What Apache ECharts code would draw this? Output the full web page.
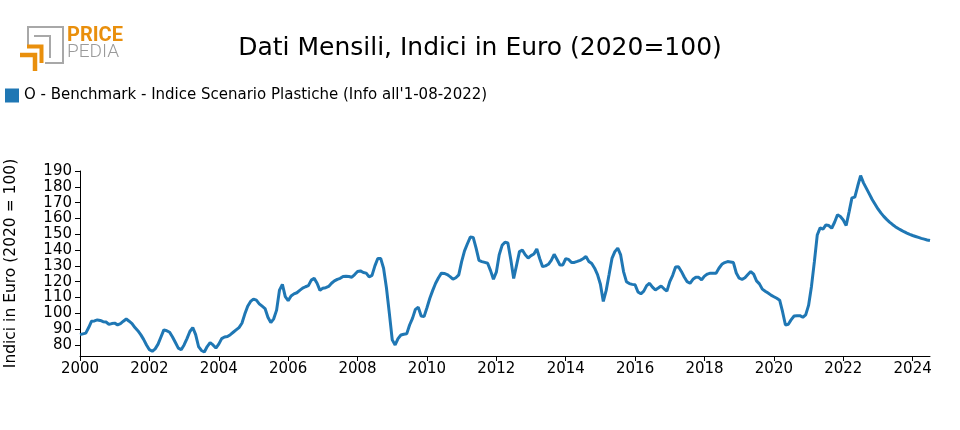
<!DOCTYPE html>
<html>
<head>
<meta charset="utf-8">
<script src="https://cdn.jsdelivr.net/npm/echarts@6/dist/echarts.min.js"></script>
<style>
html,body{margin:0;padding:0;background:#fff;}
#chart{width:960px;height:430px;}
</style>
</head>
<body>
<div id="chart"></div>
<script>
// Monthly index values, starting January of the start year
const startYear = 2000;
const v2000_2004 = [
  86.5, 87, 87.5, 91, 95, 95.2, 95.8, 95.5, 94.7, 94.5, 93, 93.5,
  93.8, 92.7, 93.5, 95, 96.4, 95, 93.5, 91, 89, 86.5, 83.5, 80,
  77, 76, 77.5, 80.5, 85, 89.5, 89, 88, 85, 81.5, 78, 77,
  80, 84, 88.5, 91, 86.5, 79, 76.5, 75.5, 79, 81.5, 80, 78,
  80.5, 84, 85, 85.3, 86.5, 88, 89.5, 91, 93.7, 99.5, 104.5, 107.5
];
const v2005_2009 = [
  109, 108.3, 106, 104.5, 103, 97.5, 94.1, 96.5, 102, 114.7, 118.3, 110.5,
  108, 111, 112.3, 113, 114.5, 115.9, 116.8, 117.5, 121, 122.1, 119, 114.5,
  115.9, 116.2, 117, 119, 120.5, 121.5, 122.1, 123.3, 123.5, 123.3, 122.8, 124.5,
  126.4, 126.8, 125.8, 125.4, 123, 124, 130, 134.7, 134.7, 128.5, 116, 100,
  83.2, 80, 84, 86.3, 86.8, 87, 92.6, 96.8, 102.5, 103.8, 98.3, 97.9
];
const v2010_2014 = [
  103.5, 109.5, 114.5, 119, 122.5, 125.4, 125.2, 124.5, 123.2, 121.6, 122.5, 124.3,
  132.7, 139.5, 144, 148.2, 148, 141.2, 133.5, 132.7, 132.2, 131.7, 127, 121.6,
  126, 137, 143, 145, 144.5, 134, 122, 130.5, 139, 140, 137, 135,
  136.5, 137.5, 140.7, 134.7, 129.5, 130, 131, 133.5, 137.3, 134, 130.6, 130.6,
  134.5, 134.1, 132.1, 132.2, 132.8, 133.5, 134.5, 135.9, 132.8, 131.5, 128.5, 124.5
];
const v2015_2019 = [
  118.4, 107.5, 114.5, 124.5, 134.7, 139, 141.2, 136.9, 126.4, 120, 118.8, 118.3,
  118, 113.5, 112.3, 114, 117.5, 119, 116.5, 114.8, 116, 117.3, 115.5, 114,
  120, 124, 129.3, 129.5, 126.5, 123, 120, 119, 121.5, 122.8, 122.8, 121.2,
  123.5, 124.8, 125.4, 125.4, 125.4, 128.5, 131, 132.1, 132.7, 132.5, 132.1, 125.5,
  122.2, 121.5, 122.5, 124.5, 126.4, 124.8, 120.5, 118.6, 115.3, 114, 112.8, 111.5
];
const v2020_2022 = [
  110.5, 109.5, 108.3, 101, 92.6, 93.1, 96, 98.3, 98.5, 98.5, 97.5, 99,
  105, 117, 132.5, 149.5, 154, 153.2, 155.9, 155.5, 153.8, 157.6, 162.3, 161.2,
  159, 155.5, 164, 173, 173.5, 180.5, 187.1
];
// Scenario after the info date (Aug 2022 - Jul 2024)
const vScenario = [
  182.5, 179, 175.5, 172, 169, 166, 163.5, 161.3, 159.4, 157.7, 156.2,
  154.8, 153.6, 152.6, 151.6, 150.7, 149.9, 149.2, 148.6, 148, 147.4, 146.9, 146.4, 146
];
const xTicks = [2000, 2002, 2004, 2006, 2008, 2010, 2012, 2014, 2016, 2018, 2020, 2022, 2024];
const yTicks = [80, 90, 100, 110, 120, 130, 140, 150, 160, 170, 180, 190];

const seriesName = "O - Benchmark - Indice Scenario Plastiche (Info all'1-08-2022)";
const allValues = [].concat(v2000_2004, v2005_2009, v2010_2014, v2015_2019, v2020_2022, vScenario);
const data = allValues.map((v, i) => [startYear + i / 12, v]);

const FONT = 'DejaVu Sans';
const chart = echarts.init(document.getElementById('chart'), null, {renderer: 'canvas'});
chart.setOption({
  animation: false,
  backgroundColor: '#ffffff',
  title: {
    text: 'Dati Mensili, Indici in Euro (2020=100)',
    left: 'center',
    top: 31,
    textStyle: {fontFamily: FONT, fontSize: 25, fontWeight: 'normal', color: '#000'}
  },
  legend: {
    left: 0,
    top: 83,
    icon: 'rect',
    itemWidth: 14,
    itemHeight: 14,
    itemGap: 5,
    textStyle: {fontFamily: FONT, fontSize: 15, color: '#000'},
    data: [seriesName]
  },
  grid: {left: 80, right: 30, top: 171, bottom: 74, containLabel: false, outerBoundsMode: 'none'},
  xAxis: {
    type: 'value',
    min: 2000,
    max: 2024.5,
    splitLine: {show: false},
    axisLine: {lineStyle: {color: '#000', width: 1}},
    axisTick: {show: true, length: 5, lineStyle: {color: '#000'}, customValues: xTicks},
    axisLabel: {
      customValues: xTicks,
      formatter: v => String(Math.round(v)),
      fontFamily: FONT, fontSize: 15, color: '#000', margin: 6
    }
  },
  yAxis: {
    type: 'value',
    min: 73,
    max: 190,
    name: 'Indici in Euro (2020 = 100)',
    nameLocation: 'middle',
    nameRotate: 90,
    nameGap: 61,
    nameTextStyle: {fontFamily: FONT, fontSize: 15.5, color: '#000'},
    splitLine: {show: false},
    axisLine: {show: true, lineStyle: {color: '#000', width: 1}},
    axisTick: {show: true, length: 5, lineStyle: {color: '#000'}, customValues: yTicks},
    axisLabel: {
      customValues: yTicks,
      fontFamily: FONT, fontSize: 15, color: '#000', margin: 8
    }
  },
  series: [{
    name: seriesName,
    type: 'line',
    data: data,
    showSymbol: false,
    symbol: 'none',
    color: '#1f77b4',
    lineStyle: {color: '#1f77b4', width: 3},
    z: 3
  }],
  graphic: [
    {type: 'polyline', shape: {points: [[28, 46], [28, 27], [63, 27], [63, 63], [45, 63]]},
     style: {stroke: '#a8a8a8', lineWidth: 2, fill: null}},
    {type: 'polyline', shape: {points: [[34, 36], [50, 36], [50, 58]]},
     style: {stroke: '#a8a8a8', lineWidth: 2, fill: null}},
    {type: 'polyline', shape: {points: [[27, 46.5], [41.5, 46.5], [41.5, 63]]},
     style: {stroke: '#e98f0c', lineWidth: 4, fill: null}},
    {type: 'polyline', shape: {points: [[20, 55], [35, 55], [35, 71]]},
     style: {stroke: '#e98f0c', lineWidth: 4.5, fill: null}},
    {type: 'text', left: 67, top: 26,
     style: {text: 'PRICE', fontFamily: 'Roboto', fontWeight: 'bold', fontSize: 20, fill: '#e98f0c'}},
    {type: 'text', left: 67, top: 43,
     style: {text: 'PEDIA', fontFamily: 'Roboto', fontWeight: 300, fontSize: 19, fill: '#9a9a9a'}}
  ]
});
</script>
</body>
</html>
